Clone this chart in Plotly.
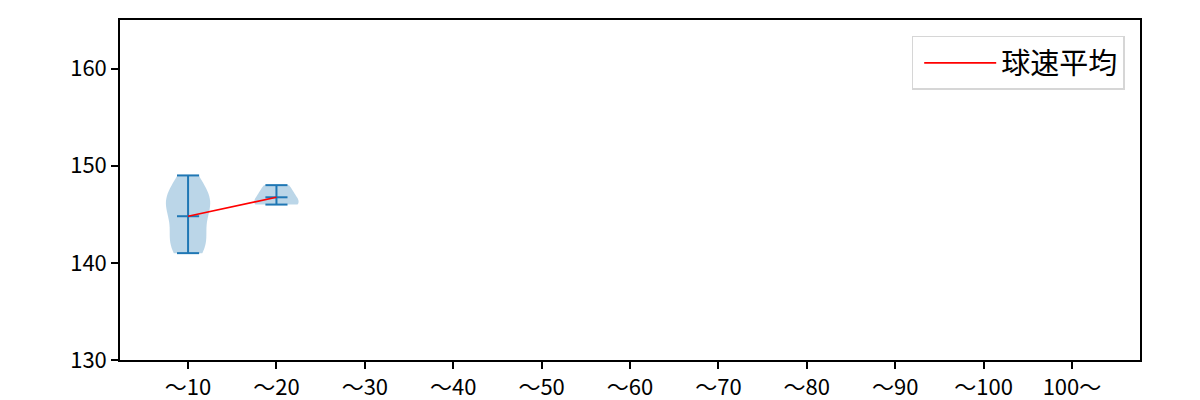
import numpy as np
import plotly.graph_objects as go

categories = ["〜10", "〜20", "〜30", "〜40", "〜50", "〜60", "〜70", "〜80", "〜90", "〜100", "100〜"]
speeds_10 = [141, 142, 142, 143, 145, 146, 146, 147, 147, 149]
speeds_20 = [146, 146, 147, 148]
groups = [speeds_10, speeds_20]
legend_label = "球速平均"
y_ticks = [130, 140, 150, 160]

BLUE = "#1f77b4"
FILL = "rgba(31,119,180,0.3)"
fig = go.Figure()

cap = 0.125
for i, data in enumerate(groups):
    arr = np.array(data, dtype=float)
    bw = arr.std(ddof=1) * len(arr) ** (-1 / 5)
    fig.add_trace(go.Violin(
        x=[i] * len(arr), y=arr, width=0.5, bandwidth=bw, spanmode="hard",
        fillcolor=FILL, line=dict(width=0, color=FILL), points=False,
        box_visible=False, meanline_visible=False, showlegend=False,
        hoverinfo="skip", scalemode="width",
    ))
    lo, hi, mn = arr.min(), arr.max(), arr.mean()
    xs, ys = [i, i, None], [lo, hi, None]
    for v in (lo, hi, mn):
        xs += [i - cap, i + cap, None]
        ys += [v, v, None]
    fig.add_trace(go.Scatter(x=xs, y=ys, mode="lines", line=dict(color=BLUE, width=2),
                             showlegend=False, hoverinfo="skip"))

means = [float(np.mean(g)) for g in groups]
fig.add_trace(go.Scatter(x=list(range(len(means))), y=means, mode="lines",
                         line=dict(color="red", width=1.6), name=legend_label))

# page body has an 8px default margin; margins compensate so the plot area sits at x 120-1140, y 20-360
fig.update_layout(
    width=1200, height=400,
    margin=dict(l=112, r=68, t=12, b=48),
    plot_bgcolor="white", paper_bgcolor="white",
    font=dict(family="Noto Sans CJK JP", size=22, color="black"),
    showlegend=True,
    legend=dict(x=0.985, y=0.953, xanchor="right", yanchor="top",
                bordercolor="#d6d6d6", borderwidth=1.5, bgcolor="white",
                font=dict(size=29), itemwidth=72, indentation=6),
    violinmode="overlay",
)
fig.update_xaxes(range=[-0.77, 10.77], tickmode="array", tickvals=list(range(len(categories))),
                 ticktext=categories, showline=True, linecolor="black", linewidth=1.5, mirror=True,
                 ticks="outside", ticklen=7, tickwidth=1.5, tickcolor="black",
                 showgrid=False, zeroline=False, automargin=False)
fig.update_yaxes(range=[130, 165], tickmode="array", tickvals=y_ticks,
                 showline=True, linecolor="black", linewidth=1.5, mirror=True,
                 ticks="outside", ticklen=7, tickwidth=1.5, tickcolor="black",
                 showgrid=False, zeroline=False, automargin=False)

fig.write_html("out.html")
